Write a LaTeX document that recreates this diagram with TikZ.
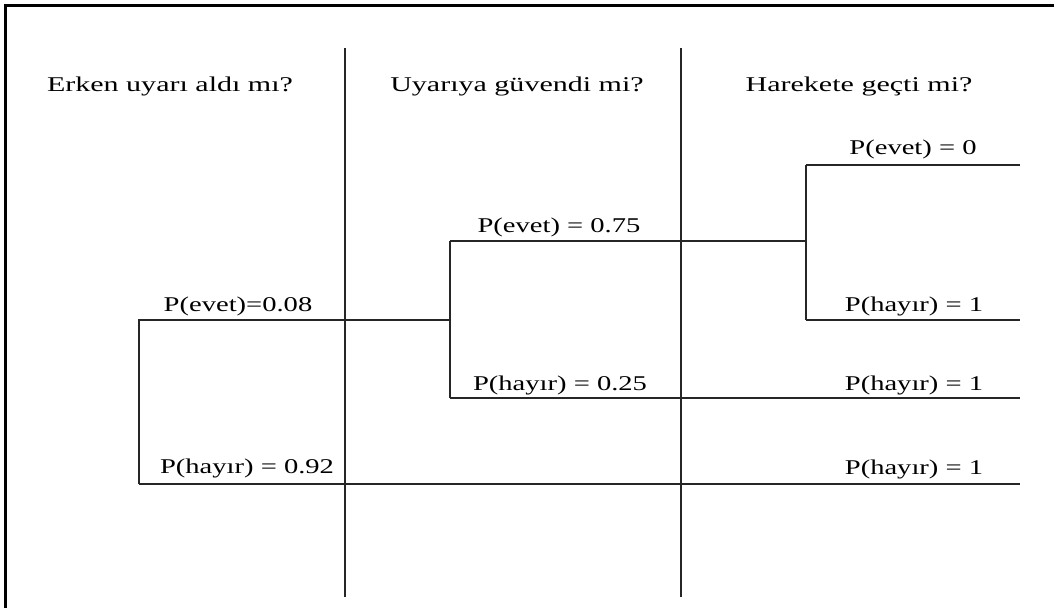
\documentclass[tikz,border=0pt]{standalone}
\usepackage{fontspec}
\setmainfont{Liberation Serif}[FakeStretch=1.36]
\newfontfamily\headfont{Liberation Serif}[FakeStretch=1.43]
\begin{document}
\begin{tikzpicture}[x=1pt,y=-1pt,
  branch/.style={line width=1.4pt, draw=black!85},
  divider/.style={line width=1.6pt, draw=black!85},
  frameline/.style={line width=3pt, draw=black},
  lbl/.style={anchor=base, inner sep=0pt, font=\fontsize{21}{25}\selectfont},
  head/.style={anchor=base, inner sep=0pt, font=\headfont\fontsize{21}{25}\selectfont}]
\useasboundingbox (0,0) rectangle (1054,608);

% outer frame (left and top edges)
\coordinate (fBL) at (5,608);
\coordinate (fTL) at (5,5);
\coordinate (fTR) at (1054,5);
\draw[frameline] (fBL) -- (fTL) -- (fTR);

% column dividers
\coordinate (d1t) at (345,48);  \coordinate (d1b) at (345,597);
\coordinate (d2t) at (681,48);  \coordinate (d2b) at (681,597);
\draw[divider] (d1t) -- (d1b);
\draw[divider] (d2t) -- (d2b);

% column headings
\node[head] (h1) at (170,91) {Erken uyarı aldı mı?};
\node[head] (h2) at (517,91) {Uyarıya güvendi mi?};
\node[head] (h3) at (859,91) {Harekete geçti mi?};

% decision points
\coordinate (aTop) at (139,320);  \coordinate (aBot) at (139,484);
\coordinate (bTop) at (450,241);  \coordinate (bMid) at (450,320);  \coordinate (bBot) at (450,398);
\coordinate (cTop) at (806,165);  \coordinate (cMid) at (806,241);  \coordinate (cBot) at (806,320);

% leaves
\coordinate (l1) at (1020,165);
\coordinate (l2) at (1020,320);
\coordinate (l3) at (1020,398);
\coordinate (l4) at (1020,484);

% tree branches
\draw[branch] (aBot) -- (aTop) -- (bMid);
\draw[branch] (aBot) -- (l4);
\draw[branch] (bTop) -- (bBot);
\draw[branch] (bTop) -- (cMid);
\draw[branch] (bBot) -- (l3);
\draw[branch] (cTop) -- (cBot);
\draw[branch] (cTop) -- (l1);
\draw[branch] (cBot) -- (l2);

% probabilities
\node[lbl] (p1) at (238,311) {P(evet)=0.08};
\node[lbl] (p2) at (247,473) {P(hayır) = 0.92};
\node[lbl] (p3) at (559,232) {P(evet) = 0.75};
\node[lbl] (p4) at (560,390) {P(hayır) = 0.25};
\node[lbl] (p5) at (913,154) {P(evet) = 0};
\node[lbl] (p6) at (914,311) {P(hayır) = 1};
\node[lbl] (p7) at (914,390) {P(hayır) = 1};
\node[lbl] (p8) at (914,474) {P(hayır) = 1};
\end{tikzpicture}
\end{document}
